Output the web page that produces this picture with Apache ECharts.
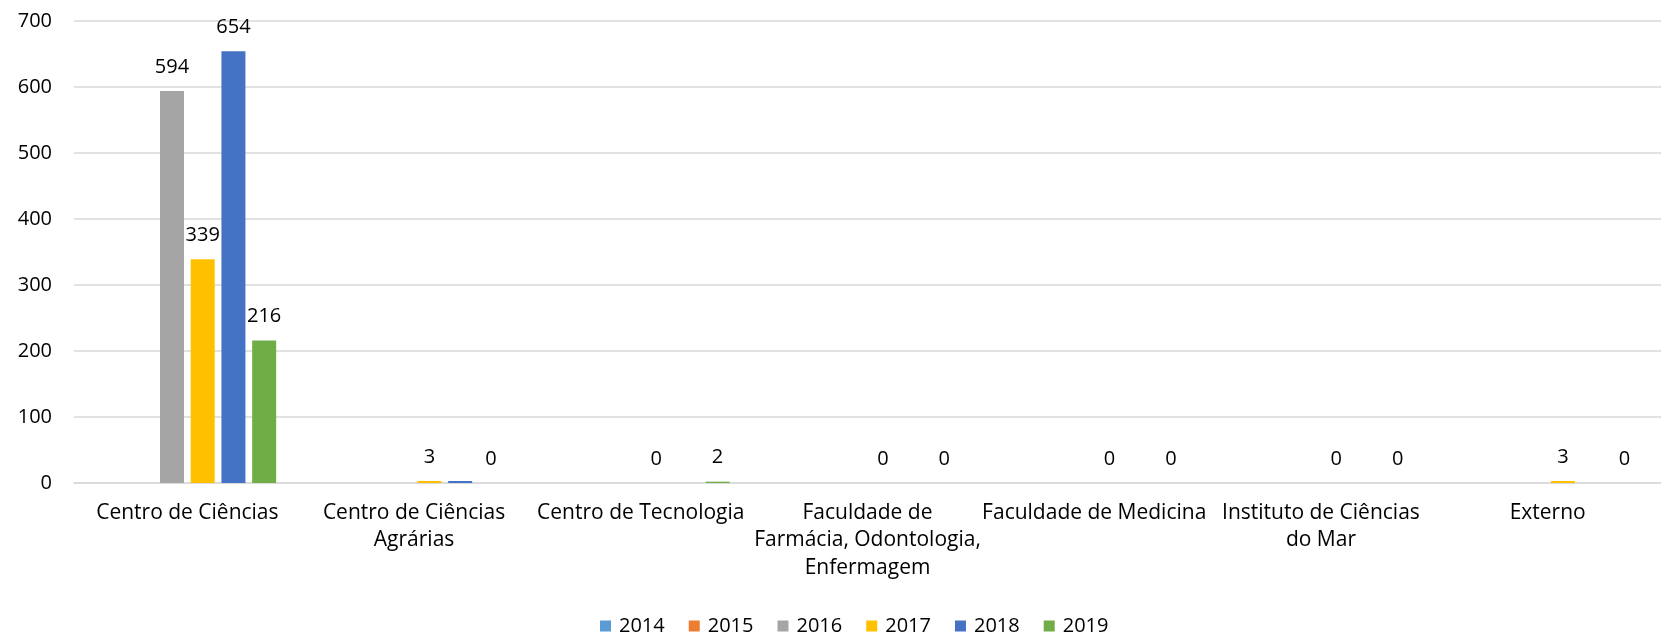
<!DOCTYPE html>
<html>
<head>
<meta charset="utf-8">
<script src="https://cdn.jsdelivr.net/npm/echarts@6/dist/echarts.min.js"></script>
<style>html,body{margin:0;padding:0;background:#fff}#c{width:1661px;height:638px}</style>
</head>
<body>
<div id="c"></div>
<script>
const categories = [
  'Centro de Ciências',
  'Centro de Ciências\nAgrárias',
  'Centro de Tecnologia',
  'Faculdade de\nFarmácia, Odontologia,\nEnfermagem',
  'Faculdade de Medicina',
  'Instituto de Ciências\ndo Mar',
  'Externo'
];
const years = ['2014', '2015', '2016', '2017', '2018', '2019'];
const v2014 = [0, 0, 0, 0, 0, 0, 0];
const v2015 = [0, 0, 0, 0, 0, 0, 0];
const v2016 = [594, 0, 0, 0, 0, 0, 0];
const v2017 = [339, 3, 0, 0, 0, 0, 3];
const v2018 = [654, 3, 0, 0, 0, 0, 0];
const v2019 = [216, 0, 2, 0, 0, 0, 0];
const yTicks = [0, 100, 200, 300, 400, 500, 600, 700];

const values = [v2014, v2015, v2016, v2017, v2018, v2019];
const colors = ['#5B9BD5', '#ED7D31', '#A5A5A5', '#FFC000', '#4472C4', '#70AD47'];
// which data labels are shown: 'all', 'first', or 'none'
const labelMode = ['none', 'none', 'first', 'all', 'first', 'all'];

const FONT = 'Open Sans';
const FS_NUM = 20;
const FS_CAT = 21;
const chart = echarts.init(document.getElementById('c'), null, {renderer: 'canvas'});

const series = years.map((y, si) => ({
  name: y,
  type: 'bar',
  barWidth: 24,
  barGap: '28%',
  itemStyle: {color: colors[si]},
  label: {show: false},
  data: values[si].map((v, i) => {
    const show = labelMode[si] === 'all' || (labelMode[si] === 'first' && i === 0);
    return {
      value: v,
      label: {
        show: show,
        position: 'top',
        distance: 14,
        color: '#000',
        fontSize: FS_NUM,
        fontFamily: FONT
      }
    };
  })
}));

chart.setOption({
  animation: false,
  backgroundColor: '#fff',
  grid: {left: 74, top: 21, width: 1599, height: 462, containLabel: false},
  legend: {
    data: years,
    bottom: 2,
    padding: 0,
    left: 600,
    icon: 'rect',
    itemWidth: 11,
    itemHeight: 11,
    itemGap: 24,
    textStyle: {fontSize: FS_NUM, fontFamily: FONT, color: '#000', padding: [0, 0, 0, 3]}
  },
  xAxis: {
    type: 'category',
    data: categories,
    axisLine: {show: true, lineStyle: {color: '#D9D9D9', width: 1.5}},
    axisTick: {show: false},
    axisLabel: {
      interval: 0,
      margin: 16,
      fontSize: FS_CAT,
      lineHeight: 27.5,
      fontFamily: FONT,
      color: '#000',
      align: 'center'
    }
  },
  yAxis: {
    type: 'value',
    min: yTicks[0],
    max: yTicks[yTicks.length - 1],
    interval: 100,
    axisLine: {show: false},
    axisTick: {show: false},
    splitLine: {lineStyle: {color: '#D9D9D9', width: 1.5}},
    axisLabel: {margin: 22, fontSize: FS_NUM, fontFamily: FONT, color: '#000'}
  },
  series: series
});
</script>
</body>
</html>
